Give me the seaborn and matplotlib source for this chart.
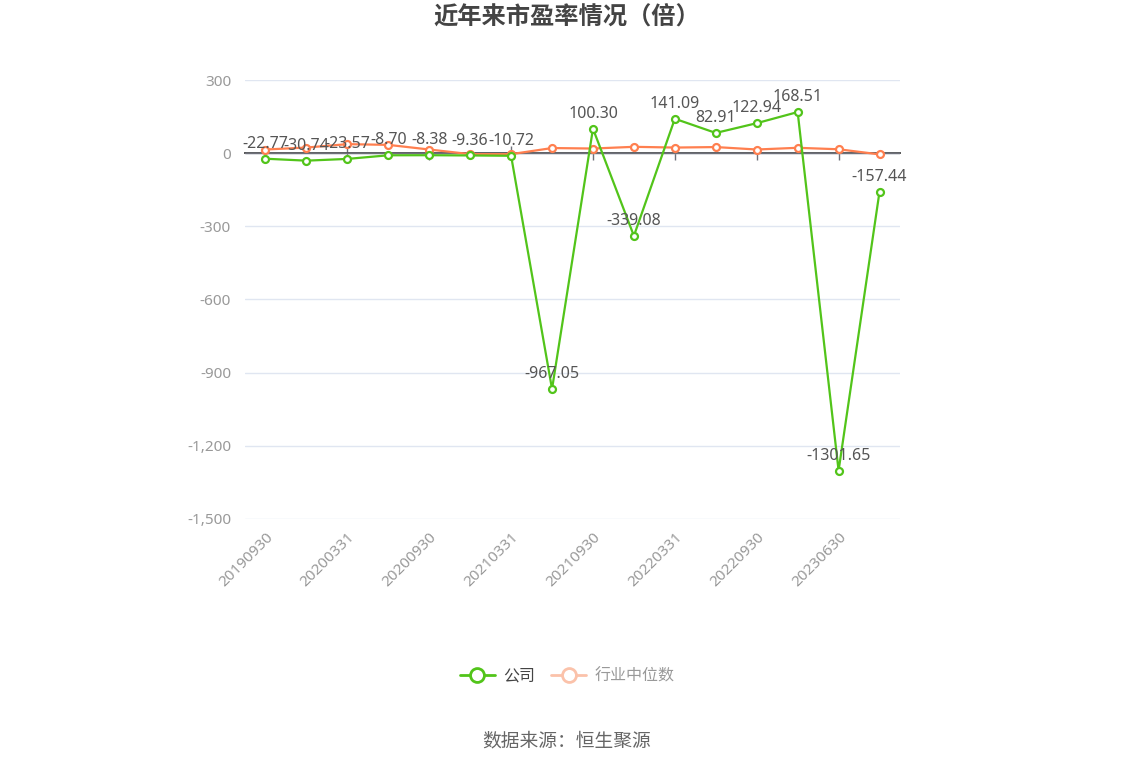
import matplotlib
matplotlib.use("Agg")
import matplotlib.pyplot as plt
import matplotlib.ticker as mticker
from matplotlib.lines import Line2D
import seaborn as sns
import pandas as pd

# 报告期
dates = ["20190930", "20191231", "20200331", "20200630", "20200930", "20201231",
         "20210331", "20210630", "20210930", "20211231", "20220331", "20220630",
         "20220930", "20230331", "20230630", "20230930"]
# 公司市盈率
company = [-22.77, -30.74, -23.57, -8.70, -8.38, -9.36, -10.72, -967.05,
           100.30, -339.08, 141.09, 82.91, 122.94, 168.51, -1301.65, -157.44]
# 行业中位数
industry = [15, 23, 37, 34, 15, -4, -4, 21, 19, 26, 23, 25, 15, 22, 16, -5]

yticks = [300, 0, -300, -600, -900, -1200, -1500]

green = "#52C41A"
orange = "#FF7F4F"

sns.set_theme(style="white")
plt.rcParams["font.family"] = ["Noto Sans", "Noto Sans CJK SC", "DejaVu Sans"]

df = pd.DataFrame({"idx": range(len(dates)), "公司": company, "行业中位数": industry})

fig = plt.figure(figsize=(11.34, 7.66), dpi=100)
ax = fig.add_axes([245 / 1134, 247 / 766, 655 / 1134, 439 / 766])

sns.lineplot(data=df, x="idx", y="行业中位数", color=orange, lw=1.6, marker="o",
             markersize=5, markerfacecolor="white", markeredgecolor=orange,
             markeredgewidth=1.6, ax=ax, zorder=3)
sns.lineplot(data=df, x="idx", y="公司", color=green, lw=1.6, marker="o",
             markersize=5, markerfacecolor="white", markeredgecolor=green,
             markeredgewidth=1.6, ax=ax, zorder=4)

for i, v in enumerate(company):
    ax.annotate(f"{v:.2f}", (i, v), xytext=(0, 5), textcoords="offset points",
                ha="center", va="bottom", fontsize=11.5, color="#555555", zorder=6)

ax.set_xlim(-0.5, len(dates) - 0.5)
ax.set_ylim(-1500, 300)
ax.set_yticks(yticks)
ax.yaxis.set_major_formatter(mticker.FuncFormatter(lambda v, p: f"{int(v):,}"))
ax.grid(axis="y", color="#E0E6F1", lw=1)
ax.set_axisbelow(True)

xt = list(range(0, len(dates), 2))
ax.set_xticks(xt)
ax.set_xticklabels([dates[i] for i in xt], rotation=45, ha="right",
                   rotation_mode="anchor")
ax.tick_params(axis="x", length=0, pad=8, labelsize=11, labelcolor="#999999")
ax.tick_params(axis="y", length=0, pad=10, labelsize=11, labelcolor="#999999")
ax.set_xlabel("")
ax.set_ylabel("")
for s in ax.spines.values():
    s.set_visible(False)

# 零轴线及刻度
ax.axhline(0, color="#6E7079", lw=1, zorder=2)
sec = ax.secondary_xaxis(1500 / 1800)
sec.set_xticks(xt)
sec.set_xticklabels([])
sec.tick_params(axis="x", bottom=True, direction="out", length=5,
                color="#6E7079", width=1)
sec.spines["bottom"].set_color("#6E7079")
sec.spines["bottom"].set_linewidth(1)

fig.text(0.5, 1 - 19 / 766, "近年来市盈率情况（倍）", ha="center", va="center",
         fontsize=17.5, fontweight="bold", color="#444444")

handles = [
    Line2D([], [], color=green, lw=2, marker="o", markersize=10,
           markerfacecolor="white", markeredgecolor=green, markeredgewidth=2),
    Line2D([], [], color="#FBC2AA", lw=2, marker="o", markersize=10,
           markerfacecolor="white", markeredgecolor="#FBC2AA", markeredgewidth=2),
]
leg = fig.legend(handles, ["公司", "行业中位数"], loc="center",
                 bbox_to_anchor=(567 / 1134, 1 - 677 / 766), ncol=2, frameon=False,
                 fontsize=11.5, handlelength=2.2, columnspacing=1.0, handletextpad=0.5)
leg.get_texts()[0].set_color("#444444")
leg.get_texts()[1].set_color("#999999")

fig.text(567 / 1134, 1 - 741 / 766, "数据来源：恒生聚源", ha="center", va="center",
         fontsize=13.5, color="#666666")

fig.savefig("out.png", dpi=100)
